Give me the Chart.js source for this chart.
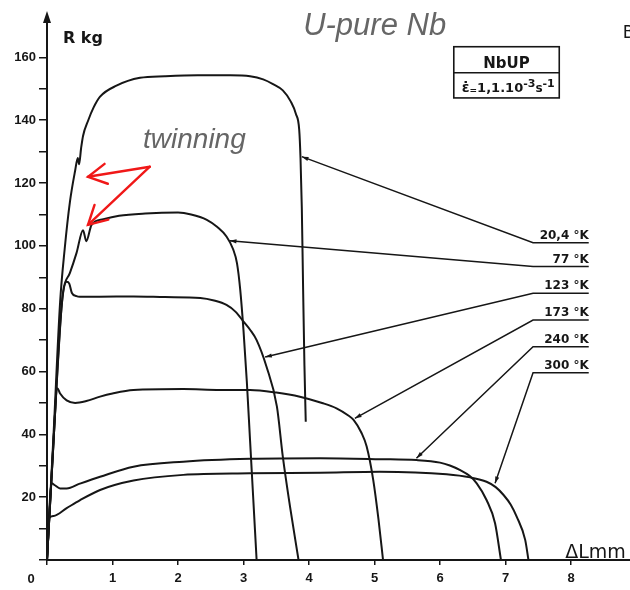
<!DOCTYPE html>
<html>
<head>
<meta charset="utf-8">
<title>NbUP – R vs ΔL</title>
<script src="https://cdn.jsdelivr.net/npm/chart.js@4.4.0/dist/chart.umd.min.js"></script>
<style>
  html, body { margin: 0; padding: 0; background: #fff; }
  #wrap { width: 630px; height: 590px; }
</style>
</head>
<body>
<div id="wrap"><canvas id="chart" width="630" height="590"></canvas></div>
<script>
// elongation ΔL (mm) and load R (kg) for each test temperature
const strain20 = [0, 0.1, 0.2, 0.27, 0.35, 0.43, 0.47, 0.49, 0.52, 0.55, 0.63, 0.71, 0.81, 1.06, 1.42, 1.8, 2.3, 2.8, 3.1, 3.3, 3.45, 3.6, 3.72, 3.8, 3.85, 3.87, 3.89, 3.91, 3.93, 3.95];
const load20   = [0, 40, 82, 99, 114, 124, 128, 126, 131, 135, 140, 144, 147.5, 151, 153.5, 154, 154.3, 154.3, 154, 153, 151.5, 149.5, 146, 142, 137, 128, 112, 86, 62, 44];

const strain77 = [0, 0.1, 0.22, 0.25, 0.35, 0.45, 0.55, 0.6, 0.68, 0.86, 1.1, 1.5, 2.0, 2.2, 2.44, 2.6, 2.74, 2.84, 2.9, 2.95, 3.0, 3.05, 3.1, 3.15, 3.2];
const load77   = [0, 38, 80, 86, 91.4, 97.7, 105, 101.5, 106.7, 108.5, 109.6, 110.3, 110.6, 110, 108.3, 106, 103, 99, 94.5, 86, 73, 57, 38, 19, 0];

const strain123 = [0, 0.1, 0.22, 0.3, 0.34, 0.38, 0.45, 0.5, 0.8, 1.32, 1.8, 2.34, 2.55, 2.74, 2.88, 3.0, 3.1, 3.2, 3.35, 3.51, 3.6, 3.71, 3.84];
const load123   = [0, 38, 80, 88.6, 88, 85, 84, 83.8, 83.8, 83.9, 83.7, 83.4, 82.6, 81.2, 79, 75.9, 73.3, 70, 61.6, 48.8, 32.9, 17, 0];

const strain173 = [0, 0.08, 0.16, 0.2, 0.3, 0.43, 0.6, 0.81, 1.0, 1.32, 2.08, 2.64, 3.1, 3.5, 3.86, 4.2, 4.42, 4.6, 4.68, 4.8, 4.88, 4.98, 5.06, 5.13];
const load173   = [0, 30, 54.7, 53, 50.8, 50, 50.6, 52, 53, 54.1, 54.4, 54.1, 54.1, 53.3, 52, 50, 48.3, 46, 44.6, 40.5, 36.1, 25.5, 13, 0];

const strain240 = [0, 0.07, 0.12, 0.2, 0.3, 0.5, 0.81, 1.32, 2.08, 3.1, 4.17, 5.08, 5.64, 6.0, 6.15, 6.3, 6.45, 6.56, 6.71, 6.84, 6.93];
const load240   = [0, 24.4, 23.8, 22.8, 22.8, 24.3, 26.5, 29.7, 31.3, 32.2, 32.4, 32.1, 31.8, 31, 30.1, 28.7, 26.8, 24.4, 19.1, 11.7, 0];

const strain300 = [0, 0.03, 0.1, 0.3, 0.5, 0.81, 1.32, 2.08, 3.1, 4.17, 5.08, 6.1, 6.46, 6.71, 6.85, 6.97, 7.08, 7.17, 7.3, 7.35];
const load300   = [0, 13.3, 14, 16.5, 19, 22.3, 25.3, 27.1, 27.6, 27.8, 28.1, 27.3, 26.3, 24.9, 23.2, 20.7, 17.6, 13.8, 6.4, 0];

const tempLabels = ['20,4 °K', '77 °K', '123 °K', '173 °K', '240 °K', '300 °K'];
const xTicks = [0, 1, 2, 3, 4, 5, 6, 7, 8];
const yTicks = [0, 10, 20, 30, 40, 50, 60, 70, 80, 90, 100, 110, 120, 130, 140, 150, 160];

const curves = [
  [strain20, load20], [strain77, load77], [strain123, load123],
  [strain173, load173], [strain240, load240], [strain300, load300]
];

// leader lines: point on the curve, then the row of the label on the right
const leaders = {
  tips: [[3.89, 128.4], [2.79, 101.6], [3.33, 64.6], [4.70, 45.1], [5.64, 32.4], [6.84, 24.4]],
  rows: [101, 93.4, 84.9, 76.4, 67.9, 59.6],
  from: 7.42,
  to: 8.27
};

const INK = '#161616';

function arrowHead(ctx, x0, y0, x1, y1, len, half, filled) {
  const a = Math.atan2(y1 - y0, x1 - x0);
  const l = [x1 - len * Math.cos(a - half), y1 - len * Math.sin(a - half)];
  const r = [x1 - len * Math.cos(a + half), y1 - len * Math.sin(a + half)];
  ctx.beginPath();
  ctx.moveTo(l[0], l[1]);
  ctx.lineTo(x1, y1);
  ctx.lineTo(r[0], r[1]);
  if (filled) { ctx.closePath(); ctx.fill(); } else { ctx.stroke(); }
}

const annotations = {
  id: 'annotations',
  afterDraw(chart) {
    const { ctx, scales: { x, y } } = chart;
    const px = v => x.getPixelForValue(v);
    const py = v => y.getPixelForValue(v);
    ctx.save();
    ctx.fillStyle = INK;
    ctx.strokeStyle = INK;

    // arrow on top of the load axis
    const ax = px(0), top = py(y.max);
    ctx.beginPath();
    ctx.moveTo(ax, top - 4);
    ctx.lineTo(ax - 4, top + 8);
    ctx.lineTo(ax + 4, top + 8);
    ctx.closePath();
    ctx.fill();

    // axis titles and origin
    ctx.textBaseline = 'alphabetic';
    ctx.textAlign = 'left';
    ctx.font = 'bold 16px "DejaVu Sans"';
    ctx.fillText('R kg', px(0.244), py(164.6));
    ctx.font = '19px "DejaVu Sans"';
    ctx.fillText('ΔLmm', px(7.91), py(0.64));
    ctx.font = '17px "DejaVu Sans"';
    ctx.fillText('B', px(8.79), py(166.2));
    ctx.font = 'bold 13px "Liberation Sans"';
    ctx.textAlign = 'center';
    ctx.fillText('0', px(0) - 16, py(0) + 23);

    // specimen box
    const bx0 = px(6.21), bx1 = px(7.82), by0 = py(163.4), by1 = py(147.1), bym = py(155.1);
    ctx.lineWidth = 1.6;
    ctx.strokeRect(bx0, by0, bx1 - bx0, by1 - by0);
    ctx.beginPath();
    ctx.moveTo(bx0, bym);
    ctx.lineTo(bx1, bym);
    ctx.stroke();
    ctx.font = 'bold 15px "DejaVu Sans"';
    ctx.fillText('NbUP', (bx0 + bx1) / 2, bym - 5);
    ctx.textAlign = 'left';
    let tx = bx0 + 8;
    const base = by1 - 6;
    const seg = (t, f, dy) => { ctx.font = f; ctx.fillText(t, tx, base + dy); tx += ctx.measureText(t).width; };
    seg('ε̇', 'bold 14px "DejaVu Sans"', 0);
    seg('=', 'bold 9px "DejaVu Sans"', 1);
    seg('1,1.10', 'bold 13px "DejaVu Sans"', 0);
    seg('-3', 'bold 11px "DejaVu Sans"', -5);
    seg('s', 'bold 12px "DejaVu Sans"', 0);
    seg('-1', 'bold 11px "DejaVu Sans"', -5);

    // temperature labels with their leader lines
    ctx.lineWidth = 1.5;
    ctx.font = 'bold 12px "DejaVu Sans"';
    ctx.textAlign = 'right';
    leaders.rows.forEach((row, i) => {
      const [tX, tY] = leaders.tips[i];
      const x0 = px(tX), y0 = py(tY);
      const xe = px(leaders.from), xr = px(leaders.to), yr = py(row);
      ctx.beginPath();
      ctx.moveTo(x0, y0);
      ctx.lineTo(xe, yr);
      ctx.lineTo(xr, yr);
      ctx.stroke();
      arrowHead(ctx, xe, yr, x0, y0, 7, 0.3, true);
      ctx.fillText(tempLabels[i], xr, yr - 4);
    });

    // notes
    ctx.textAlign = 'left';
    ctx.fillStyle = '#666666';
    ctx.font = 'italic 31px "Liberation Sans"';
    ctx.fillText('U-pure Nb', px(3.91), py(167.2));
    ctx.font = 'italic 28px "Liberation Sans"';
    ctx.fillText('twinning', px(1.466), py(131.2));

    // red arrows pointing at the twinning serrations
    ctx.strokeStyle = '#f01818';
    ctx.lineWidth = 2.4;
    ctx.lineCap = 'round';
    const apex = [px(1.57), py(125.2)];
    [[0.626, 122], [0.626, 106.7]].forEach(([vx, vy]) => {
      const tip = [px(vx), py(vy)];
      ctx.beginPath();
      ctx.moveTo(apex[0], apex[1]);
      ctx.lineTo(tip[0], tip[1]);
      ctx.stroke();
      arrowHead(ctx, apex[0], apex[1], tip[0], tip[1], 21, 0.5, false);
    });
    ctx.restore();
  }
};

const tickFont = { family: 'Liberation Sans', size: 13, weight: 'bold' };

new Chart(document.getElementById('chart'), {
  type: 'scatter',
  data: {
    datasets: curves.map(([sx, sy], i) => ({
      label: tempLabels[i],
      data: sx.map((v, k) => ({ x: v, y: sy[k] })),
      showLine: true,
      borderColor: INK,
      borderWidth: 2,
      pointRadius: 0,
      cubicInterpolationMode: 'monotone',
      fill: false
    }))
  },
  options: {
    responsive: false,
    animation: false,
    devicePixelRatio: 1,
    layout: { padding: { top: 15, right: 0, left: 0, bottom: 0 } },
    plugins: { legend: { display: false }, tooltip: { enabled: false } },
    scales: {
      x: {
        type: 'linear',
        min: 0,
        max: 8.9,
        border: { color: INK, width: 2 },
        grid: { drawOnChartArea: false, drawTicks: true, tickLength: 5, color: INK, lineWidth: 1.5 },
        afterBuildTicks: s => { s.ticks = xTicks.map(v => ({ value: v })); },
        afterFit: s => { s.height = 30; },
        ticks: {
          color: INK,
          font: tickFont,
          padding: 6,
          maxRotation: 0,
          autoSkip: false,
          callback: v => (v > 0 ? String(v) : '')
        }
      },
      y: {
        type: 'linear',
        min: 0,
        max: 173.5,
        border: { color: INK, width: 2 },
        grid: { drawOnChartArea: false, drawTicks: true, tickLength: 8, color: INK, lineWidth: 1.5 },
        afterBuildTicks: s => { s.ticks = yTicks.map(v => ({ value: v })); },
        afterFit: s => { s.width = 47; },
        ticks: {
          color: INK,
          font: tickFont,
          padding: 3,
          autoSkip: false,
          callback: v => (v > 0 && v % 20 === 0 ? String(v) : '')
        }
      }
    }
  },
  plugins: [annotations]
});
</script>
</body>
</html>
